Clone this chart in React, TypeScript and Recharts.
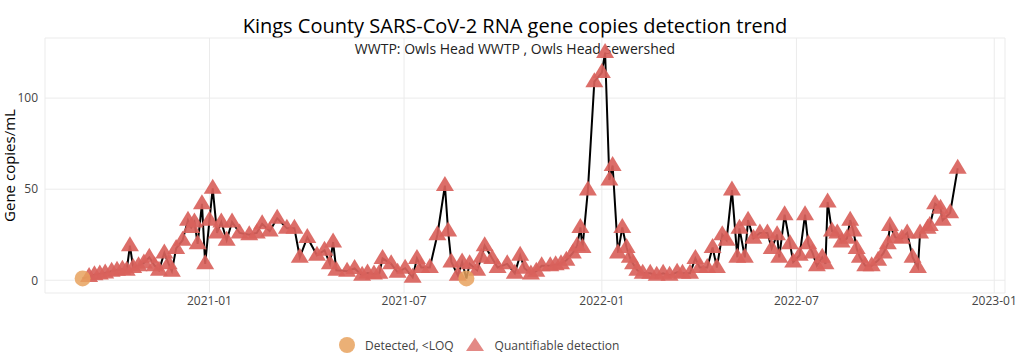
import { ComposedChart, Line, Scatter, XAxis, YAxis, CartesianGrid, Label } from "recharts"

// sample dates and gene copies/mL
const sampleDates = [
  "2020-09-05", "2020-09-11", "2020-09-16", "2020-09-21", "2020-09-26", "2020-10-02", "2020-10-07", "2020-10-12",
  "2020-10-16", "2020-10-19", "2020-10-22", "2020-10-27", "2020-11-01", "2020-11-06", "2020-11-11", "2020-11-15",
  "2020-11-20", "2020-11-24", "2020-11-27", "2020-12-01", "2020-12-07", "2020-12-12", "2020-12-15", "2020-12-18",
  "2020-12-21", "2020-12-25", "2020-12-28",
  "2021-01-01", "2021-01-04", "2021-01-08", "2021-01-12", "2021-01-17", "2021-01-22", "2021-01-29", "2021-02-07",
  "2021-02-14", "2021-02-19", "2021-02-26", "2021-03-05", "2021-03-14", "2021-03-21", "2021-03-26", "2021-04-02",
  "2021-04-11", "2021-04-18", "2021-04-23", "2021-04-26", "2021-04-29", "2021-05-09", "2021-05-16", "2021-05-23",
  "2021-05-28", "2021-06-03", "2021-06-08", "2021-06-11", "2021-06-19", "2021-06-25", "2021-07-02", "2021-07-09",
  "2021-07-13", "2021-07-17", "2021-07-25", "2021-08-01", "2021-08-08", "2021-08-11", "2021-08-14", "2021-08-20",
  "2021-08-24", "2021-08-28", "2021-08-31", "2021-09-07", "2021-09-11", "2021-09-14", "2021-09-21", "2021-09-26",
  "2021-10-05", "2021-10-12", "2021-10-17", "2021-10-21", "2021-10-27", "2021-11-01", "2021-11-06", "2021-11-14",
  "2021-11-19", "2021-11-24", "2021-11-29", "2021-12-05", "2021-12-09", "2021-12-12", "2021-12-14", "2021-12-19",
  "2021-12-25",
  "2022-01-01", "2022-01-04", "2022-01-08", "2022-01-11", "2022-01-16", "2022-01-20", "2022-01-24", "2022-01-27",
  "2022-01-30", "2022-02-03", "2022-02-08", "2022-02-15", "2022-02-21", "2022-02-27", "2022-03-05", "2022-03-12",
  "2022-03-17", "2022-03-24", "2022-03-29", "2022-04-02", "2022-04-09", "2022-04-14", "2022-04-18", "2022-04-23",
  "2022-04-27", "2022-05-02", "2022-05-07", "2022-05-09", "2022-05-14", "2022-05-17", "2022-05-22", "2022-05-28",
  "2022-06-04", "2022-06-08", "2022-06-13", "2022-06-15", "2022-06-20", "2022-06-25", "2022-06-28", "2022-07-04",
  "2022-07-09", "2022-07-12", "2022-07-16", "2022-07-20", "2022-07-25", "2022-07-28", "2022-07-30", "2022-08-03",
  "2022-08-08", "2022-08-12", "2022-08-17", "2022-08-20", "2022-08-23", "2022-08-26", "2022-08-29", "2022-09-03",
  "2022-09-09", "2022-09-15", "2022-09-20", "2022-09-24", "2022-09-26", "2022-10-01", "2022-10-07", "2022-10-12",
  "2022-10-17", "2022-10-22", "2022-10-24", "2022-10-31", "2022-11-02", "2022-11-07", "2022-11-12", "2022-11-14",
  "2022-11-21", "2022-11-28",
]

const geneCopies = [
  1, 2, 3, 3.5, 4, 5, 5.5, 6,
  5.5, 19, 7, 8, 9.5, 12.6, 8, 5.5,
  15, 9, 5, 17.5, 22, 33, 29, 32,
  20, 42, 9,
  33, 50.5, 26, 32, 22, 32, 26, 25,
  26, 31, 27, 34, 28.5, 28.5, 12.6, 23.5,
  13.7, 16.5, 9, 21, 5.5, 5, 6.5, 2.7,
  4, 3.5, 3.8, 12, 9, 4.4, 6.6, 1.6,
  12, 7, 7, 25, 52, 27, 10, 2.7,
  10, 1, 9, 5.5, 12.6, 19, 12, 7,
  9, 3.8, 13.7, 6.6, 3.5, 5, 8, 8,
  8.5, 9, 11, 15, 19, 29, 18, 49.5,
  109,
  114, 125, 55, 63, 15, 29, 18, 12.6,
  9, 5.5, 3.8, 3.8, 2.7, 3.8, 2.7, 4.4,
  3.8, 3.8, 12, 7, 7, 18, 7, 25,
  22, 49.5, 12.6, 28.5, 12.6, 33, 23, 26,
  26, 17.5, 25, 12.6, 36, 20, 10, 13.7,
  36, 20, 15, 8, 12.6, 9, 43, 27,
  26, 21, 23, 33, 27, 17.5, 12.6, 8,
  8, 11, 15, 20, 30, 23.5, 23, 26,
  12.6, 7, 26, 28.5, 30, 42, 39.5, 33,
  37, 61.5,
]

// samples flagged "Detected, <LOQ"
const belowLoqDates = ["2020-09-05", "2021-08-28"]

const xTickLabels = ["2021-01", "2021-07", "2022-01", "2022-07", "2023-01"]
const yTicks = [0, 50, 100]

const toTime = (d: string) => Date.parse(d + "T00:00:00Z")

const rows = sampleDates.map((d, i) => ({ t: toTime(d), v: geneCopies[i] }))
const loqRows = rows.filter((_, i) => belowLoqDates.includes(sampleDates[i]))
const quantRows = rows.filter((_, i) => !belowLoqDates.includes(sampleDates[i]))

const TRI = "#d9625c"
const ORANGE = "#e8a25e"
const FONT = "'Open Sans', 'Noto Sans', sans-serif"

function fmtMonth(t: number) {
  const d = new Date(t)
  return `${d.getUTCFullYear()}-${String(d.getUTCMonth() + 1).padStart(2, "0")}`
}

function Triangle(props: any) {
  const { cx, cy } = props
  if (cx == null || cy == null) return null
  return <path d={`M${cx - 9},${cy + 5.5} L${cx + 9},${cy + 5.5} L${cx},${cy - 9.5} Z`} fill={TRI} fillOpacity={0.92} />
}

function Dot(props: any) {
  const { cx, cy } = props
  if (cx == null || cy == null) return null
  return <circle cx={cx} cy={cy} r={8} fill={ORANGE} fillOpacity={0.85} />
}

export default function App() {
  return (
    <div style={{ position: "absolute", left: 0, top: 0, width: 1024, height: 362, background: "#fff", fontFamily: FONT }}>
      <div style={{ position: "absolute", top: 15, left: 0, width: 1030, textAlign: "center", fontSize: 20, color: "#000", lineHeight: "21px" }}>
        Kings County SARS-CoV-2 RNA gene copies detection trend
      </div>
      <div style={{ position: "absolute", top: 41, left: 0, width: 1030, textAlign: "center", fontSize: 14, color: "#222", lineHeight: "15px" }}>
        WWTP: Owls Head WWTP , Owls Head sewershed
      </div>

      <ComposedChart width={1024} height={362} data={rows} margin={{ top: 38, right: 19, bottom: 39, left: 0 }}>
        <CartesianGrid stroke="#ebebeb" strokeWidth={1} />
        <XAxis
          dataKey="t"
          type="number"
          scale="time"
          domain={[toTime("2020-08-01"), toTime("2023-01-11")]}
          ticks={xTickLabels.map((m) => toTime(m + "-01"))}
          tickFormatter={fmtMonth}
          height={30}
          tickLine={false}
          axisLine={false}
          tickSize={0}
          tickMargin={3}
          tick={{ fill: "#444", fontSize: 12, fontFamily: FONT }}
        />
        <YAxis
          type="number"
          domain={[-7, 133]}
          ticks={yTicks}
          width={45}
          tickLine={false}
          axisLine={false}
          tickSize={0}
          tickMargin={7}
          tick={{ fill: "#444", fontSize: 12, fontFamily: FONT }}
        >
          <Label
            value="Gene copies/mL"
            angle={-90}
            position="insideLeft"
            offset={10}
            style={{ textAnchor: "middle", fill: "#000", fontSize: 15, fontFamily: FONT }}
          />
        </YAxis>
        <Line
          dataKey="v"
          type="linear"
          stroke="#000"
          strokeWidth={2}
          dot={false}
          activeDot={false}
          isAnimationActive={false}
        />
        <Scatter data={quantRows} dataKey="v" shape={Triangle} isAnimationActive={false} />
        <Scatter data={loqRows} dataKey="v" shape={Dot} isAnimationActive={false} />
      </ComposedChart>

      <div style={{ position: "absolute", top: 336, left: 338, height: 18, display: "flex", alignItems: "center", fontSize: 12, color: "#444" }}>
        <svg width={18} height={18}>
          <circle cx={9} cy={9} r={8} fill={ORANGE} fillOpacity={0.85} />
        </svg>
        <span style={{ marginLeft: 9 }}>Detected, &lt;LOQ</span>
        <svg width={20} height={18} style={{ marginLeft: 11 }}>
          <path d="M1,15 L19,15 L10,1.5 Z" fill={TRI} fillOpacity={0.75} />
        </svg>
        <span style={{ marginLeft: 10 }}>Quantifiable detection</span>
      </div>
    </div>
  )
}
